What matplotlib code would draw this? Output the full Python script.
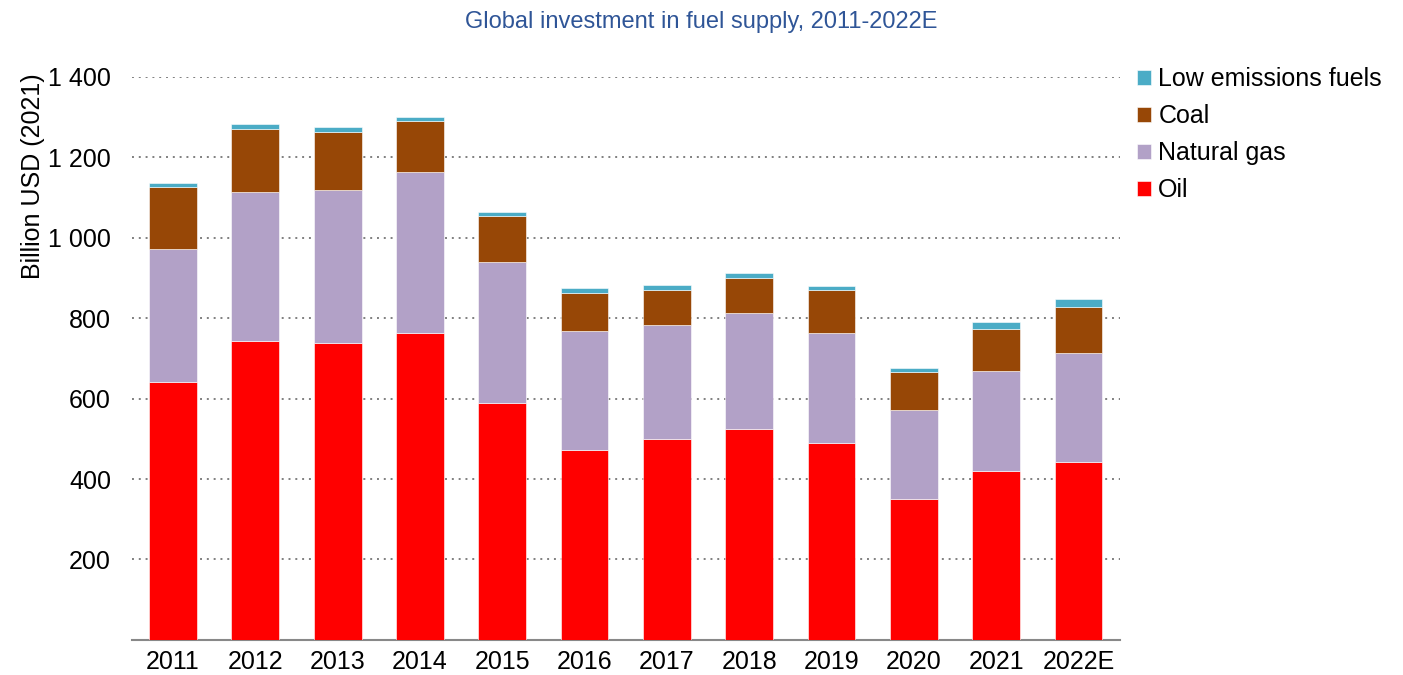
import matplotlib.pyplot as plt
import numpy as np

plt.rcParams['font.family'] = ['Liberation Sans', 'DejaVu Sans']

years = ["2011", "2012", "2013", "2014", "2015", "2016", "2017", "2018", "2019", "2020", "2021", "2022E"]
oil = [642, 744, 739, 764, 589, 472, 499, 525, 489, 350, 420, 443]
natural_gas = [330, 369, 381, 399, 351, 296, 284, 287, 275, 222, 249, 271]
coal = [154, 158, 144, 128, 113, 95, 88, 89, 105, 95, 104, 115]
low_emissions = [10, 11, 12, 10, 11, 11, 12, 11, 11, 9, 18, 19]

series = [
    ("Oil", oil, "#FF0000"),
    ("Natural gas", natural_gas, "#B2A1C7"),
    ("Coal", coal, "#974706"),
    ("Low emissions fuels", low_emissions, "#4BACC6"),
]

fig = plt.figure(figsize=(14.03, 6.75), dpi=100)
ax = fig.add_axes([0.094, 0.052, 0.704, 0.834])

x = np.arange(len(years))
bottom = np.zeros(len(years))
handles = []
for name, vals, color in series:
    b = ax.bar(x, vals, width=0.58, bottom=bottom, color=color,
               edgecolor="white", linewidth=0.4, label=name, zorder=3)
    handles.append(b)
    bottom += np.array(vals)

yticks = [200, 400, 600, 800, 1000, 1200, 1400]
ax.set_xlim(-0.5, len(years) - 0.5)
ax.set_ylim(0, 1400)
ax.set_yticks(yticks)
ax.set_yticklabels([f"{v:,}".replace(",", " ") for v in yticks])
ax.set_xticks(x)
ax.set_xticklabels(years)
ax.tick_params(axis="both", length=0, labelsize=18)
ax.tick_params(axis="x", pad=7)
ax.tick_params(axis="y", pad=15)

ax.grid(axis="y", linestyle=(0, (1, 2.5)), color="#7F7F7F", linewidth=1.4, zorder=0)
for s in ["top", "right", "left"]:
    ax.spines[s].set_visible(False)
ax.spines["bottom"].set_color("#888888")
ax.spines["bottom"].set_linewidth(1.5)

fig.text(33 / 1403, 1 - 176 / 675, "Billion USD (2021)", rotation=90,
         ha="center", va="center", fontsize=18)

fig.text(0.5, 0.968, "Global investment in fuel supply, 2011-2022E",
         ha="center", va="center", fontsize=17, color="#2F5597")

leg = ax.legend(handles[::-1], [s[0] for s in series[::-1]],
                loc="upper left", bbox_to_anchor=(1.0, 1.048), frameon=False,
                fontsize=18, handlelength=0.55, handleheight=0.55,
                handletextpad=0.3, labelspacing=0.52, borderaxespad=0.3)

fig.savefig("out.png", dpi=100)
